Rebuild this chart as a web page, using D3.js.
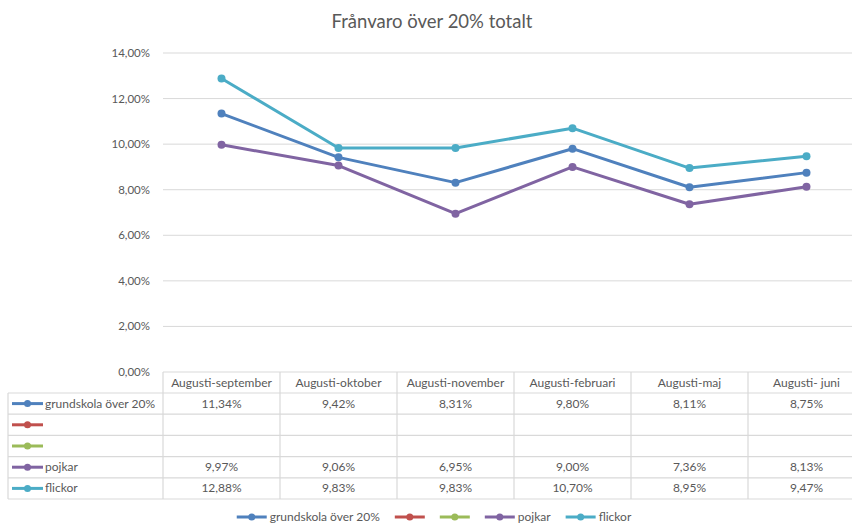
<!DOCTYPE html>
<html>
<head>
<meta charset="utf-8">
<script src="https://cdn.jsdelivr.net/npm/d3@7"></script>
<style>
  html, body { margin: 0; padding: 0; background: #fff; }
  svg { display: block; font-family: Lato, "Open Sans", sans-serif; }
</style>
</head>
<body>
<svg id="chart" width="852" height="524"></svg>
<script>
// Period labels (x categories)
const categories = ["Augusti-september", "Augusti-oktober", "Augusti-november", "Augusti-februari", "Augusti-maj", "Augusti- juni"];

// Series names and colours
const seriesNames = ["grundskola över 20%", "", "", "pojkar", "flickor"];
const seriesColors = ["#4F81BD", "#C0504D", "#9BBB59", "#8064A2", "#4BACC6"];

// Values in percent (null = no data)
const grundskola = [11.34, 9.42, 8.31, 9.80, 8.11, 8.75];
const serie2 = [null, null, null, null, null, null];
const serie3 = [null, null, null, null, null, null];
const pojkar = [9.97, 9.06, 6.95, 9.00, 7.36, 8.13];
const flickor = [12.88, 9.83, 9.83, 10.70, 8.95, 9.47];

const yTicks = [0, 2, 4, 6, 8, 10, 12, 14];

const series = [grundskola, serie2, serie3, pojkar, flickor].map((vals, i) => ({
  name: seriesNames[i], color: seriesColors[i], values: vals
}));

const svg = d3.select("#chart");
const textColor = "#595959";
const gridColor = "#D9D9D9";
const fmt = v => v.toFixed(2).replace(".", ",") + "%";

// Title
svg.append("text")
  .attr("x", 432).attr("y", 28)
  .attr("text-anchor", "middle")
  .attr("font-size", 18.5)
  .attr("fill", textColor)
  .text("Frånvaro över 20% totalt");

// Scales
const x = d3.scaleBand().domain(categories).range([163, 865]);
const y = d3.scaleLinear().domain([0, 14]).range([372, 53]);

// Gridlines and y labels
const yAxis = svg.append("g");
yAxis.selectAll("line").data(yTicks).join("line")
  .attr("x1", 163).attr("x2", 865)
  .attr("y1", d => y(d)).attr("y2", d => y(d))
  .attr("stroke", gridColor).attr("stroke-width", 1);
yAxis.selectAll("text").data(yTicks).join("text")
  .attr("x", 150).attr("y", d => y(d) + 4)
  .attr("text-anchor", "end")
  .attr("font-size", 11.5)
  .attr("fill", textColor)
  .text(d => fmt(d));

// Lines
const line = d3.line()
  .defined(d => d.v != null)
  .x(d => x(d.c) + x.bandwidth() / 2)
  .y(d => y(d.v));

series.forEach(s => {
  const pts = s.values.map((v, i) => ({ c: categories[i], v }));
  svg.append("path")
    .datum(pts)
    .attr("d", line)
    .attr("fill", "none")
    .attr("stroke", s.color)
    .attr("stroke-width", 3)
    .attr("stroke-linejoin", "round");
  svg.append("g").selectAll("circle").data(pts.filter(d => d.v != null)).join("circle")
    .attr("cx", d => x(d.c) + x.bandwidth() / 2)
    .attr("cy", d => y(d.v))
    .attr("r", 4)
    .attr("fill", s.color);
});

// Data table
const tableTop = 372;
const headerH = 21;
const rowH = 21.2;
const leftX = 8;
const table = svg.append("g");
const nRows = series.length;
const tableBottom = tableTop + headerH + nRows * rowH;

// horizontal lines
const hLines = [];
for (let r = 0; r <= nRows; r++) hLines.push(tableTop + headerH + r * rowH);
table.selectAll("line.h").data(hLines).join("line")
  .attr("x1", leftX).attr("x2", 865)
  .attr("y1", d => d).attr("y2", d => d)
  .attr("stroke", gridColor).attr("stroke-width", 1.2);
// vertical lines
const vLines = categories.map(c => x(c)).concat([x.range()[1]]);
table.selectAll("line.v").data(vLines).join("line")
  .attr("x1", d => d).attr("x2", d => d)
  .attr("y1", tableTop).attr("y2", tableBottom)
  .attr("stroke", gridColor).attr("stroke-width", 1.2);
table.append("line")
  .attr("x1", leftX).attr("x2", leftX)
  .attr("y1", tableTop + headerH).attr("y2", tableBottom)
  .attr("stroke", gridColor).attr("stroke-width", 1.2);

// header labels
table.selectAll("text.cat").data(categories).join("text")
  .attr("x", d => x(d) + x.bandwidth() / 2)
  .attr("y", tableTop + headerH / 2 + 4)
  .attr("text-anchor", "middle")
  .attr("font-size", 12)
  .attr("fill", textColor)
  .text(d => d);

// rows
series.forEach((s, r) => {
  const cy = tableTop + headerH + r * rowH + rowH / 2;
  table.append("line")
    .attr("x1", 12).attr("x2", 43)
    .attr("y1", cy).attr("y2", cy)
    .attr("stroke", s.color).attr("stroke-width", 3);
  table.append("circle").attr("cx", 27.5).attr("cy", cy).attr("r", 3.5).attr("fill", s.color);
  table.append("text")
    .attr("x", 45).attr("y", cy + 4)
    .attr("font-size", 12).attr("fill", textColor)
    .text(s.name);
  s.values.forEach((v, i) => {
    if (v == null) return;
    table.append("text")
      .attr("x", x(categories[i]) + x.bandwidth() / 2)
      .attr("y", cy + 4)
      .attr("text-anchor", "middle")
      .attr("font-size", 12).attr("fill", textColor)
      .text(fmt(v));
  });
});

// Bottom legend
const legend = svg.append("g");
const legendY = 517;
let lx = 0;
const items = [];
series.forEach(s => {
  const g = legend.append("g");
  g.append("line").attr("x1", 0).attr("x2", 30).attr("y1", 0).attr("y2", 0)
    .attr("stroke", s.color).attr("stroke-width", 3);
  g.append("circle").attr("cx", 15).attr("cy", 0).attr("r", 3.5).attr("fill", s.color);
  let w = 30;
  if (s.name) {
    const t = g.append("text").attr("x", 33).attr("y", 4)
      .attr("font-size", 12).attr("fill", textColor).text(s.name);
    w = 33 + t.node().getComputedTextLength();
  }
  items.push({ g, w });
});
const gap = 15;
const total = d3.sum(items, d => d.w) + gap * (items.length - 1);
lx = 434 - total / 2;
items.forEach(it => {
  it.g.attr("transform", `translate(${lx},${legendY})`);
  lx += it.w + gap;
});
</script>
</body>
</html>
